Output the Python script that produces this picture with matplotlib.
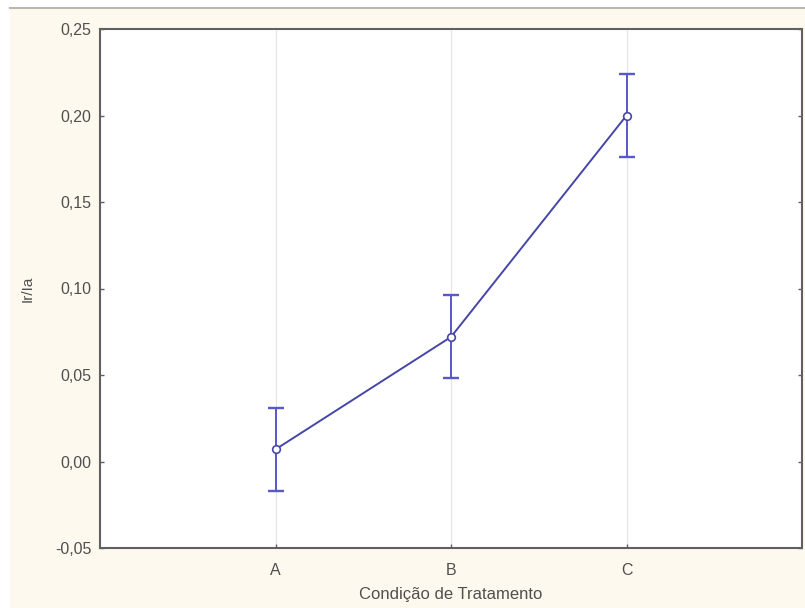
import matplotlib
matplotlib.use("Agg")
import matplotlib.pyplot as plt
from matplotlib.ticker import FuncFormatter
from matplotlib.patches import Rectangle
from matplotlib.lines import Line2D

plt.rcParams['font.family'] = ['Liberation Sans', 'DejaVu Sans']

categories = ["A", "B", "C"]
means = [0.007, 0.072, 0.200]
errors = [0.024, 0.024, 0.024]
y_ticks = [-0.05, 0.00, 0.05, 0.10, 0.15, 0.20, 0.25]

fig = plt.figure(figsize=(8.05, 6.08), dpi=100, facecolor="white")
# cream background panel with grey top border
fig.patches.append(Rectangle((10 / 805, 0), 1, 1 - 9 / 608, transform=fig.transFigure,
                             facecolor="#fdf9ee", edgecolor="none", zorder=-10))
fig.lines.append(Line2D([10 / 805, 1], [1 - 8 / 608, 1 - 8 / 608], transform=fig.transFigure,
                        color="#b8b8b0", lw=1.5, zorder=-10))

ax = fig.add_axes([100 / 805, 60 / 608, 702 / 805, 519 / 608])
ax.set_facecolor("white")

x = list(range(len(categories)))
ax.errorbar(x, means, yerr=errors, fmt="none", ecolor="#5858c8", elinewidth=1.4,
            capsize=5.5, capthick=1.7, zorder=2)
ax.plot(x, means, color="#4646a6", lw=1.4, marker="o", markersize=5.5,
        markerfacecolor="white", markeredgecolor="#4646a6", markeredgewidth=1.2, zorder=3)

ax.set_xlim(-1, 3)
ax.set_ylim(-0.05, 0.25)
ax.set_xticks(x)
ax.set_xticklabels(categories)
ax.set_yticks(y_ticks)
ax.yaxis.set_major_formatter(FuncFormatter(lambda v, p: f"{v:.2f}".replace(".", ",")))
ax.grid(axis="x", color="#e4e4e4", lw=0.8)
ax.set_axisbelow(True)

for s in ax.spines.values():
    s.set_color("#606060")
    s.set_linewidth(1.5)
ax.tick_params(direction="in", length=3, width=1, color="#606060",
               labelsize=11.5, labelcolor="#505050", right=True)
ax.tick_params(axis="y", pad=6)
ax.tick_params(axis="x", pad=11)

ax.set_xlabel("Condição de Tratamento", fontsize=12, color="#505050", labelpad=6)
ax.set_ylabel("Ir/Ia", fontsize=11, color="#505050")
ax.yaxis.set_label_coords(-65 / 702, 0.5)

fig.savefig("out.png", dpi=100, facecolor=fig.get_facecolor())
